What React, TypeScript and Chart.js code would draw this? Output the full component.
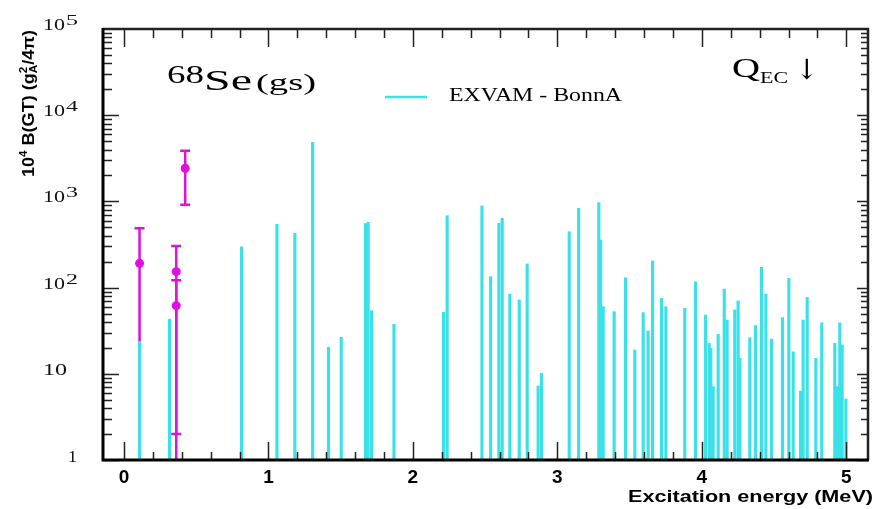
import { useEffect, useRef } from "react";
import { Chart, registerables } from "chart.js";

Chart.register(...registerables);

// Theory (EXVAM - BonnA) strengths: excitation energy (MeV) and 10^4 B(GT)
const theoryEnergies = [
  0.108, 0.316, 0.814, 1.059, 1.183, 1.306, 1.416, 1.504, 1.672, 1.69,
  1.714, 1.869, 2.212, 2.237, 2.478, 2.538, 2.595, 2.618, 2.671, 2.736,
  2.791, 2.867, 2.89, 3.082, 3.147, 3.287, 3.299, 3.317, 3.393, 3.472,
  3.536, 3.594, 3.628, 3.659, 3.721, 3.751, 3.882, 3.956, 4.026, 4.051,
  4.062, 4.078, 4.113, 4.155, 4.175, 4.228, 4.251, 4.263, 4.332, 4.371,
  4.413, 4.443, 4.482, 4.558, 4.602, 4.632, 4.683, 4.701, 4.729, 4.789,
  4.83, 4.92, 4.939, 4.955, 4.971, 4.997,
];
const theoryStrengths = [
  24, 43, 298, 542, 427, 4844, 20.3, 26.5, 553, 572,
  54, 37.5, 51.7, 683, 885, 134, 557, 637, 84, 72,
  188, 7.2, 10.1, 445, 831, 966, 357, 60, 52.6, 130,
  18.9, 51.2, 31.4, 204, 75, 60, 57.5, 117, 48, 22.6,
  19.7, 7.1, 28.7, 96, 42, 55, 70, 15.1, 26.2, 36.2,
  172, 84, 25.3, 44.8, 128, 18, 6.3, 42, 77, 15.1,
  39, 22.6, 7.1, 39, 21.6, 5.1,
];

// Experimental points with error bars
const expEnergies = [0.108, 0.362, 0.362, 0.424];
const expValues = [191, 153, 61.7, 2421];
const expLow = [24, 0.9, 2, 916];
const expHigh = [488, 304, 122, 3873];
const expLowCap = [false, true, true, true];

// Axes
const xMin = -0.145;
const xMax = 5.15;
const xTickValues = [0, 1, 2, 3, 4, 5];
const yMin = 1;
const yMax = 100000;
const yTickValues = [1, 10, 100, 1000, 10000, 100000];
const yTickBase = ["1", "10", "10", "10", "10", "10"];
const yTickExp = ["", "", "2", "3", "4", "5"];

const legendLabel = "EXVAM - BonnA";
const xTitle = "Excitation energy (MeV)";

const CYAN = "#3ae2e8";
const MAGENTA = "#e010e0";
const SERIF = '"Liberation Serif", "DejaVu Serif", serif';
const SANS = '"Liberation Sans", "DejaVu Sans", sans-serif';

function fitText(
  ctx: CanvasRenderingContext2D,
  text: string,
  font: string,
  x: number,
  y: number,
  width: number,
  align: "left" | "right" = "left"
) {
  ctx.save();
  ctx.font = font;
  ctx.textAlign = "left";
  ctx.textBaseline = "alphabetic";
  const w = ctx.measureText(text).width;
  const s = width / w;
  ctx.translate(align === "right" ? x - width : x, y);
  ctx.scale(s, 1);
  ctx.fillText(text, 0, 0);
  ctx.restore();
}

const decorPlugin = {
  id: "decor",
  afterDatasetsDraw(chart: any) {
    const { ctx, chartArea: a, scales } = chart;
    const x = scales.x;
    const y = scales.y;
    ctx.save();
    ctx.beginPath();
    ctx.rect(a.left, a.top, a.right - a.left, a.bottom - a.top);
    ctx.clip();
    ctx.strokeStyle = MAGENTA;
    ctx.lineWidth = 2.5;
    expEnergies.forEach((e, i) => {
      const px = x.getPixelForValue(e);
      const lo = y.getPixelForValue(expLow[i]);
      const hi = y.getPixelForValue(expHigh[i]);
      ctx.beginPath();
      ctx.moveTo(px, lo);
      ctx.lineTo(px, hi);
      ctx.moveTo(px - 5, hi);
      ctx.lineTo(px + 5, hi);
      if (expLowCap[i]) {
        ctx.moveTo(px - 5, lo);
        ctx.lineTo(px + 5, lo);
      }
      ctx.stroke();
    });
    ctx.restore();
  },
  afterDraw(chart: any) {
    const { ctx, chartArea: a, scales } = chart;
    const x = scales.x;
    const y = scales.y;
    ctx.save();
    // ticks
    ctx.strokeStyle = "#222";
    ctx.lineWidth = 1.5;
    ctx.beginPath();
    for (let i = 0; i <= 25; i++) {
      const v = i * 0.2;
      if (v < xMin || v > xMax) continue;
      const px = Math.round(x.getPixelForValue(v)) + 0.5;
      const major = i % 5 === 0;
      ctx.moveTo(px, a.bottom);
      ctx.lineTo(px, a.bottom - (major ? 18 : 8));
      ctx.moveTo(px, a.top);
      ctx.lineTo(px, a.top + (major ? 18 : 9));
    }
    for (let d = 0; d < 5; d++) {
      for (let m = 1; m <= 9; m++) {
        const v = m * Math.pow(10, d);
        const py = Math.round(y.getPixelForValue(v)) + 0.5;
        const major = m === 1;
        ctx.moveTo(a.left, py);
        ctx.lineTo(a.left + (major ? 16 : 9), py);
        ctx.moveTo(a.right, py);
        ctx.lineTo(a.right - (major ? 11 : 7), py);
      }
    }
    ctx.stroke();
    // frame
    ctx.strokeStyle = "#222";
    ctx.lineWidth = 2.5;
    ctx.beginPath();
    ctx.moveTo(a.left, a.top);
    ctx.lineTo(a.right, a.top);
    ctx.lineTo(a.right, a.bottom);
    ctx.stroke();
    ctx.strokeStyle = "#000";
    ctx.lineWidth = 3;
    ctx.beginPath();
    ctx.moveTo(a.left, a.top - 1);
    ctx.lineTo(a.left, a.bottom);
    ctx.lineTo(a.right + 1, a.bottom);
    ctx.stroke();

    // y tick labels
    ctx.fillStyle = "#111";
    yTickValues.forEach((v, i) => {
      const py = y.getPixelForValue(v);
      if (yTickBase[i] === "1") {
        fitText(ctx, "1", `16px ${SERIF}`, 68, py + 2, 9);
      } else if (!yTickExp[i]) {
        fitText(ctx, yTickBase[i], `16px ${SERIF}`, 43, py + 1, 24);
      } else {
        fitText(ctx, yTickBase[i], `16px ${SERIF}`, 43, py + 1, 22);
        fitText(ctx, yTickExp[i], `15px ${SERIF}`, 66, py - 4, 12);
      }
    });

    // y title (rotated)
    ctx.save();
    ctx.translate(34, 177);
    ctx.rotate(-Math.PI / 2);
    const big = `bold 17px ${SANS}`;
    const small = `bold 11px ${SANS}`;
    const pieces: { t: string; f: string; dy: number; stackNext?: boolean }[] = [
      { t: "10", f: big, dy: 0 },
      { t: "4", f: small, dy: -7 },
      { t: " B(GT) (g", f: big, dy: 0 },
      { t: "2", f: small, dy: -7, stackNext: true },
      { t: "A", f: small, dy: 3 },
      { t: "/4\u03c0)", f: big, dy: 0 },
    ];
    let total = 0;
    const widths = pieces.map((p) => {
      ctx.font = p.f;
      return ctx.measureText(p.t).width;
    });
    for (let i = 0; i < pieces.length; i++) {
      if (pieces[i].stackNext) {
        total += Math.max(widths[i], widths[i + 1]);
        i++;
      } else total += widths[i];
    }
    const sc = 147 / total;
    ctx.scale(sc, 1);
    ctx.fillStyle = "#000";
    ctx.textBaseline = "alphabetic";
    let cx = 0;
    for (let i = 0; i < pieces.length; i++) {
      const p = pieces[i];
      ctx.font = p.f;
      ctx.fillText(p.t, cx, p.dy);
      if (p.stackNext) {
        const q = pieces[i + 1];
        ctx.font = q.f;
        ctx.fillText(q.t, cx, q.dy);
        cx += Math.max(widths[i], widths[i + 1]);
        i++;
      } else cx += widths[i];
    }
    ctx.restore();

    // x title
    ctx.fillStyle = "#000";
    fitText(ctx, xTitle, `bold 16px ${SANS}`, 873, 502, 245, "right");

    // nucleus label
    fitText(ctx, "68", `26px ${SERIF}`, 167, 83, 37);
    fitText(ctx, "Se", `29px ${SERIF}`, 204, 90, 48);
    fitText(ctx, "(gs)", `24px ${SERIF}`, 256, 90, 60);

    // legend
    ctx.strokeStyle = CYAN;
    ctx.lineWidth = 2.5;
    ctx.beginPath();
    ctx.moveTo(385, 97);
    ctx.lineTo(427, 97);
    ctx.stroke();
    fitText(ctx, legendLabel, `18px ${SERIF}`, 449, 101, 173);

    // Q_EC arrow
    fitText(ctx, "Q", `28px ${SERIF}`, 732, 77, 28);
    fitText(ctx, "EC", `17px ${SERIF}`, 760, 83, 28);
    ctx.font = `28px "DejaVu Serif", serif`;
    ctx.textBaseline = "alphabetic";
    ctx.fillText("\u2193", 795, 79);
    ctx.restore();
  },
};

export default function App() {
  const ref = useRef<HTMLCanvasElement | null>(null);
  useEffect(() => {
    if (!ref.current) return;
    const chart = new Chart(ref.current, {
      type: "bar",
      data: {
        datasets: [
          {
            type: "scatter",
            label: "exp",
            data: expEnergies.map((e, i) => ({ x: e, y: expValues[i] })),
            backgroundColor: MAGENTA,
            borderColor: MAGENTA,
            pointRadius: 4.5,
            borderWidth: 0,
            order: 1,
          } as any,
          {
            type: "bar",
            label: legendLabel,
            data: theoryEnergies.map((e, i) => ({ x: e, y: theoryStrengths[i] })),
            backgroundColor: CYAN,
            borderWidth: 0,
            barThickness: 2.5,
            base: 1,
            grouped: false,
            order: 2,
          } as any,
        ],
      },
      options: {
        responsive: false,
        animation: false,
        layout: { padding: { top: 29, right: 7, left: 0, bottom: 0 } },
        plugins: { legend: { display: false }, tooltip: { enabled: false } },
        scales: {
          x: {
            type: "linear",
            min: xMin,
            max: xMax,
            offset: false,
            grid: { display: false, drawTicks: false },
            border: { display: false },
            afterBuildTicks: (s: any) => {
              s.ticks = xTickValues.map((v) => ({ value: v }));
            },
            afterFit: (s: any) => {
              s.height = 49;
            },
            ticks: {
              color: "#000",
              padding: 6,
              maxRotation: 0,
              autoSkip: false,
              font: { family: SANS, weight: "bold", size: 19 },
              callback: (v: any) => String(v),
            },
          },
          y: {
            type: "logarithmic",
            min: yMin,
            max: yMax,
            grid: { display: false, drawTicks: false },
            border: { display: false },
            ticks: { display: false },
            afterFit: (s: any) => {
              s.width = 103;
            },
          },
        },
      } as any,
      plugins: [decorPlugin],
    });
    return () => chart.destroy();
  }, []);
  return (
    <div style={{ position: "absolute", left: 0, top: 0, width: 875, height: 509, background: "#fff" }}>
      <canvas ref={ref} width={875} height={509} style={{ display: "block" }} />
    </div>
  );
}
